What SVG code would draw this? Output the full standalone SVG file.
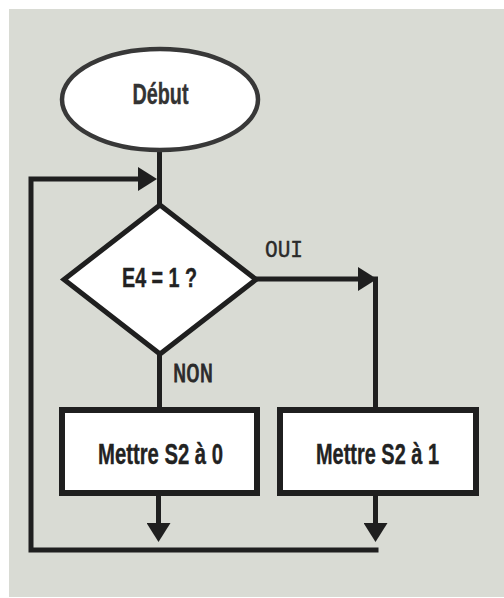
<svg xmlns="http://www.w3.org/2000/svg" width="504" height="598" viewBox="0 0 504 598">
  <style>
    .shape { fill: #ffffff; stroke: #1f1f1f; stroke-linejoin: miter; }
    .wire { fill: none; stroke: #1f1f1f; stroke-width: 5; stroke-linecap: square; }
    .title { font-family: "Liberation Sans", Arial, sans-serif; font-weight: bold; fill: #222222; text-anchor: middle; stroke: #222222; stroke-width: 0.4; }
    .tag { font-family: "Liberation Mono", "Courier New", monospace; fill: #2a2a2a; stroke: #2a2a2a; stroke-width: 0.4; }
  </style>
  <defs>
    <marker id="head" viewBox="0 0 19 24" refX="0" refY="12" markerWidth="19" markerHeight="24" markerUnits="userSpaceOnUse" orient="auto">
      <path d="M0,0 L19,12 L0,24 Z" fill="#1f1f1f"/>
    </marker>
  </defs>

  <!-- page -->
  <rect width="504" height="598" fill="#ffffff"/>
  <rect x="9" y="9" width="495" height="588" fill="#d9dbd4"/>

  <!-- connectors -->
  <g id="connectors">
    <line class="wire" x1="159.5" y1="150" x2="159.5" y2="206"/>
    <path class="wire" d="M376,550 H31 V179 H138" marker-end="url(#head)"/>
    <path class="wire" d="M256,279 H358" marker-end="url(#head)"/>
    <line class="wire" x1="375.5" y1="279" x2="375.5" y2="410"/>
    <line class="wire" x1="159.5" y1="354" x2="159.5" y2="410"/>
    <line class="wire" x1="158.5" y1="496" x2="158.5" y2="523" marker-end="url(#head)"/>
    <line class="wire" x1="375.5" y1="496" x2="375.5" y2="523" marker-end="url(#head)"/>
    <text class="tag" transform="translate(265,257) scale(1,1.1)" font-size="22" textLength="38" lengthAdjust="spacingAndGlyphs">OUI</text>
    <text class="tag" transform="translate(173,382) scale(1,1.25)" font-size="22" textLength="40" lengthAdjust="spacingAndGlyphs" style="stroke-width:0.7">NON</text>
  </g>

  <g id="debut">
    <ellipse class="shape" cx="160" cy="99.5" rx="98" ry="50.5" stroke-width="4.5" style="stroke:#383838"/>
    <text class="title" x="160.5" y="104" font-size="30" textLength="56" lengthAdjust="spacingAndGlyphs" style="fill:#333333;stroke:#333333">Début</text>
  </g>

  <g id="test">
    <polygon class="shape" points="160,205 256,279.5 160,354 64,279.5" stroke-width="5"/>
    <text class="title" x="159.5" y="287" font-size="27" textLength="75" lengthAdjust="spacingAndGlyphs">E4 = 1 ?</text>
  </g>

  <g id="s2-zero">
    <rect class="shape" x="62" y="410" width="195" height="83" stroke-width="6"/>
    <text class="title" x="160.5" y="464" font-size="30" textLength="125" lengthAdjust="spacingAndGlyphs">Mettre S2 à 0</text>
  </g>

  <g id="s2-one">
    <rect class="shape" x="280" y="410" width="196" height="83" stroke-width="6"/>
    <text class="title" x="377.5" y="464" font-size="30" textLength="123" lengthAdjust="spacingAndGlyphs">Mettre S2 à 1</text>
  </g>
</svg>
